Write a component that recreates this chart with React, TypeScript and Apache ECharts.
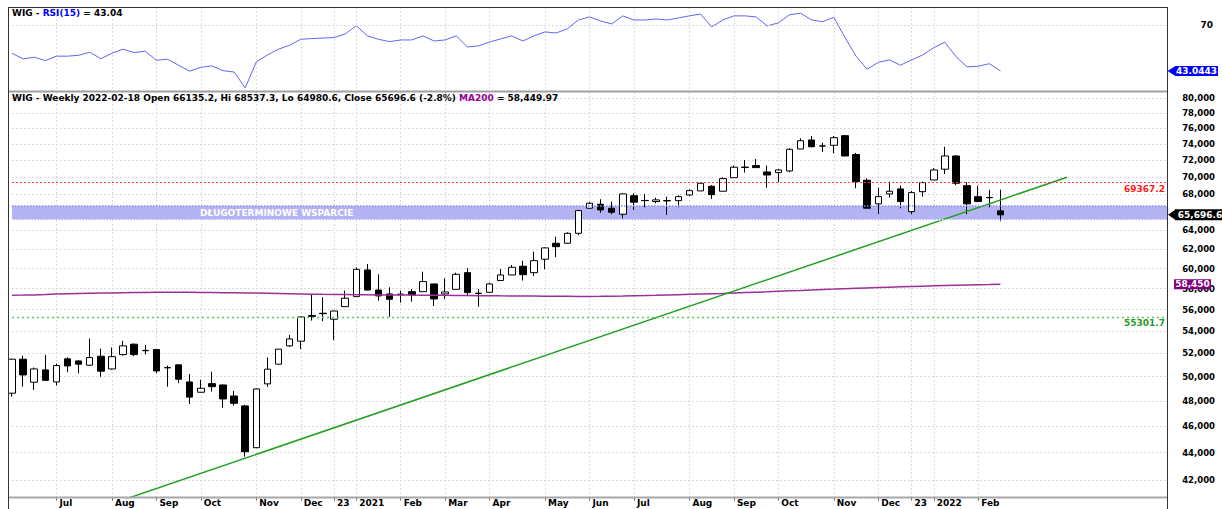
import React, { useEffect, useRef } from 'react';
import * as echarts from 'echarts';

const FONT = 'DejaVu Sans';

const WEEKS = [
  '2020-06-05','2020-06-12','2020-06-19','2020-06-26','2020-07-03','2020-07-10','2020-07-17','2020-07-24','2020-07-31',
  '2020-08-07','2020-08-14','2020-08-21','2020-08-28','2020-09-04','2020-09-11','2020-09-18','2020-09-25',
  '2020-10-02','2020-10-09','2020-10-16','2020-10-23','2020-10-30','2020-11-06','2020-11-13','2020-11-20','2020-11-27',
  '2020-12-04','2020-12-11','2020-12-18','2020-12-23','2020-12-31',
  '2021-01-08','2021-01-15','2021-01-22','2021-01-29','2021-02-05','2021-02-12','2021-02-19','2021-02-26',
  '2021-03-05','2021-03-12','2021-03-19','2021-03-26','2021-04-01','2021-04-09','2021-04-16','2021-04-23','2021-04-30',
  '2021-05-07','2021-05-14','2021-05-21','2021-05-28','2021-06-04','2021-06-11','2021-06-18','2021-06-25',
  '2021-07-02','2021-07-09','2021-07-16','2021-07-23','2021-07-30','2021-08-06','2021-08-13','2021-08-20','2021-08-27',
  '2021-09-03','2021-09-10','2021-09-17','2021-09-24','2021-10-01','2021-10-08','2021-10-15','2021-10-22','2021-10-29',
  '2021-11-05','2021-11-12','2021-11-19','2021-11-26','2021-12-03','2021-12-10','2021-12-17','2021-12-23','2021-12-30',
  '2022-01-07','2022-01-14','2022-01-21','2022-01-28','2022-02-04','2022-02-11','2022-02-18',
];

const FUTURE_WEEKS = [
  '2022-02-25','2022-03-04','2022-03-11','2022-03-18','2022-03-25','2022-04-01','2022-04-08','2022-04-15',
  '2022-04-22','2022-04-29','2022-05-06','2022-05-13','2022-05-20','2022-05-27','2022-06-03',
];

const OPEN = [
  48630, 51500, 49540, 50580, 49560, 51530, 51350, 50980, 51760, 50660,
  51900, 52820, 52270, 52340, 50790, 51010, 49560, 48710, 49420, 49310,
  48400, 47600, 44360, 49400, 51070, 52670, 53090, 55350, 55650, 55090,
  56270, 57230, 59860, 57870, 57490, 57460, 57710, 57710, 58470, 57490,
  57940, 59590, 57560, 57650, 58800, 59360, 60240, 59590, 60960, 62620,
  62620, 63680, 66430, 66880, 66430, 65760, 67850, 67290, 67180, 67290,
  67290, 67930, 68400, 68940, 68360, 69940, 71160, 71380, 70620, 70540,
  70740, 73410, 74530, 73780, 73870, 75080, 72720, 69640, 66920, 68050,
  68630, 66050, 68310, 69670, 70950, 72550, 69010, 67740, 67650, 66135.2,
];
const HIGH = [
  51550, 51810, 50780, 51870, 51120, 51670, 51410, 53320, 52430, 52520,
  53120, 52880, 52760, 52380, 50950, 51050, 50230, 49750, 50430, 49360,
  48820, 47680, 49030, 51640, 52400, 53650, 55330, 57390, 57170, 55890,
  57810, 60130, 60470, 59430, 58140, 57810, 57970, 59690, 58470, 59030,
  59590, 60030, 57940, 58600, 59960, 60370, 60810, 61740, 62200, 63320,
  63790, 66240, 67110, 67450, 67180, 68130, 68130, 68050, 67630, 67740,
  67900, 68590, 69360, 69060, 69990, 71380, 72060, 72180, 71380, 70980,
  73500, 74750, 75040, 74190, 75040, 75170, 72920, 69870, 68780, 69480,
  69010, 68400, 69480, 71070, 73690, 72670, 69410, 69010, 68520, 68537.3,
];
const LOW = [
  48350, 49170, 48900, 49640, 49260, 50380, 50290, 50950, 50000, 50600,
  51810, 51760, 51930, 50290, 49170, 49460, 47750, 48680, 48760, 47460,
  47620, 43700, 44340, 49170, 51050, 52580, 52380, 54960, 54910, 53180,
  56270, 57230, 57830, 56820, 55330, 56650, 56750, 57710, 56340, 56980,
  57940, 57300, 56270, 57650, 58800, 59360, 58800, 59260, 59930, 61160,
  62550, 63470, 66350, 65930, 65760, 65320, 66240, 66530, 66990, 65680,
  66530, 67820, 68400, 67480, 68360, 69940, 70540, 71140, 68780, 69410,
  70590, 73410, 73620, 73040, 72880, 72520, 68710, 66430, 65790, 67630,
  66420, 65760, 67740, 69670, 70380, 69060, 65760, 67180, 66530, 64980.6,
];
const CLOSE = [
  51500, 50150, 50660, 49700, 50950, 50920, 51070, 51640, 50470, 51720,
  52670, 51900, 52240, 50490, 50750, 49790, 48310, 49040, 49170, 48160,
  47810, 44060, 48980, 50640, 52380, 53290, 55300, 55440, 55610, 55860,
  57080, 59930, 57870, 57300, 56980, 57450, 57390, 58700, 57010, 57680,
  59430, 57620, 57540, 58470, 59360, 60130, 59390, 60810, 62130, 62260,
  63680, 66160, 66990, 66240, 65980, 68050, 67110, 67310, 67370, 67260,
  67740, 68430, 69290, 67970, 69830, 71190, 71200, 71140, 70260, 70860,
  73370, 74440, 73690, 73780, 74820, 72550, 69480, 66430, 67740, 68360,
  67180, 68200, 69360, 70860, 72550, 69290, 66920, 67180, 67615, 65696.6,
];

const RSI15 = [
  53.4, 50.1, 51.1, 49.1, 51.7, 51.7, 52.2, 54.0, 50.2, 53.4,
  55.8, 53.8, 54.6, 49.3, 49.9, 46.4, 42.9, 45.2, 46.0, 43.2,
  42.4, 33.2, 48.3, 52.4, 55.8, 58.1, 61.6, 62.0, 62.3, 62.6,
  64.7, 69.6, 63.6, 61.6, 60.2, 61.2, 61.2, 63.6, 60.6, 61.2,
  63.6, 57.1, 57.7, 60.0, 61.8, 63.6, 60.6, 63.6, 65.9, 65.3,
  67.7, 72.9, 74.7, 72.3, 70.6, 75.3, 72.9, 72.9, 73.5, 72.9,
  74.1, 75.3, 76.4, 68.8, 72.9, 75.3, 75.3, 74.7, 69.4, 71.2,
  75.9, 76.9, 72.9, 71.9, 74.5, 62.7, 51.7, 44.0, 48.1, 49.5,
  46.4, 49.5, 52.4, 56.7, 59.9, 51.4, 45.4, 45.8, 47.3, 43.0443,
];

const MA200 = [
  57365, 57380, 57400, 57440, 57490, 57510, 57530, 57550, 57570, 57590,
  57610, 57625, 57640, 57654, 57660, 57660, 57650, 57640, 57630, 57615,
  57600, 57585, 57570, 57550, 57530, 57510, 57490, 57461, 57450, 57440,
  57430, 57420, 57410, 57400, 57395, 57390, 57380, 57374, 57365, 57355,
  57345, 57335, 57325, 57315, 57305, 57300, 57290, 57280, 57270, 57265,
  57260, 57255, 57250, 57260, 57275, 57290, 57310, 57330, 57360, 57394,
  57420, 57450, 57480, 57510, 57540, 57580, 57620, 57660, 57700, 57750,
  57790, 57830, 57875, 57923, 57960, 58000, 58040, 58075, 58110, 58145,
  58180, 58215, 58250, 58280, 58310, 58340, 58370, 58395, 58420, 58449.97,
];

const MONTH_LABELS: Record<number, string> = {
  4: 'Jul', 9: 'Aug', 13: 'Sep', 17: 'Oct', 22: 'Nov', 26: 'Dec', 29: '23', 31: '2021',
  35: 'Feb', 39: 'Mar', 43: 'Apr', 48: 'May', 52: 'Jun', 56: 'Jul', 61: 'Aug', 65: 'Sep',
  69: 'Oct', 74: 'Nov', 78: 'Dec', 81: '23', 83: '2022', 87: 'Feb',
};

const PRICE_TICKS = [
  42000, 44000, 46000, 48000, 50000, 52000, 54000, 56000, 58000, 60000,
  62000, 64000, 66000, 68000, 70000, 72000, 74000, 76000, 78000, 80000,
];
// tick label hidden in the reference behind the last-close tag
const HIDDEN_TICK_LABELS = [66000];
const RSI_LEVEL = 70;
const RESISTANCE = 69367.2;
const SUPPORT_LINE = 55301.7;
const SUPPORT_ZONE = [66670, 65130];
const SUPPORT_NAME = 'DŁUGOTERMINOWE WSPARCIE';
const TREND = [[10, 40620], [95, 70000]];

const PRICE_MIN = 40787;
const PRICE_MAX = 80814;
const RSI_MIN = 31;
const RSI_MAX = 80.5;

const last = WEEKS.length - 1;
const HEADER_RSI = `{k|WIG - }{b|RSI(15)}{k| = ${RSI15[last].toFixed(2)}}`;
const pct = ((CLOSE[last] / CLOSE[last - 1] - 1) * 100).toFixed(1);
const HEADER_PRICE =
  `{k|WIG - Weekly ${WEEKS[last]} Open ${OPEN[last]}, Hi ${HIGH[last]}, Lo ${LOW[last]}, Close ${CLOSE[last]} (${pct}%) }` +
  `{m|MA200}{k| = 58,449.97}`;

const fmt = (v: number) => v.toLocaleString('en-US');

export default function App() {
  const ref = useRef<HTMLDivElement>(null);

  useEffect(() => {
    if (!ref.current) return;
    const chart = echarts.init(ref.current, null, { renderer: 'svg' });
    const cats = [...WEEKS, ...FUTURE_WEEKS];
    const lastCat = cats[cats.length - 1];
    const showAt = (i: number) => MONTH_LABELS[i] !== undefined;
    const gridLine = { color: '#cfcfcf', type: [1.5, 2.5], width: 1 };
    const bold = { fontFamily: FONT, fontSize: 9, fontWeight: 'bold' as const };

    const tag = (value: number, text: string, color: string, width: number, height: number, offsetX: number) => ({
      coord: [lastCat, value], symbol: 'rect', symbolSize: [width, height], symbolOffset: [offsetX, 0],
      itemStyle: { color },
      label: { show: true, position: 'inside', color: '#ffffff', ...bold, formatter: text },
    });
    const arrow = (value: number, color: string, size: number[], offsetX: number) => ({
      coord: [lastCat, value], symbol: 'triangle', symbolSize: size, symbolRotate: 90,
      symbolOffset: [offsetX, 0], itemStyle: { color }, label: { show: false },
    });

    const option: any = {
      animation: false,
      backgroundColor: '#ffffff',
      textStyle: { fontFamily: FONT },
      title: [
        {
          left: 12, top: 8, padding: 0, text: HEADER_RSI,
          textStyle: { rich: { k: { ...bold, color: '#000' }, b: { ...bold, color: '#0000ff' } } },
        },
        {
          left: 12, top: 93, padding: 0, text: HEADER_PRICE,
          textStyle: { rich: { k: { ...bold, color: '#000' }, m: { ...bold, color: '#990099' } } },
        },
      ],
      grid: [
        { left: 12, right: 55, top: 7, height: 84.5 },
        { left: 12, right: 55, top: 92, height: 405.5 },
      ],
      xAxis: [
        {
          type: 'category', gridIndex: 0, data: cats, boundaryGap: false,
          axisLine: { show: false }, axisTick: { show: false }, axisLabel: { show: false },
          splitLine: { show: true, interval: (i: number) => showAt(i), lineStyle: gridLine },
        },
        {
          type: 'category', gridIndex: 1, data: cats, boundaryGap: false,
          axisLine: { show: false },
          axisTick: { show: true, interval: (i: number) => showAt(i), length: 3, lineStyle: { color: '#666' } },
          axisLabel: {
            show: true, interval: (i: number) => showAt(i),
            formatter: (_v: string, i: number) => MONTH_LABELS[i] ?? '',
            align: 'left', padding: [0, 0, 0, 3], margin: 1, color: '#000', ...bold,
          },
          splitLine: { show: true, interval: (i: number) => showAt(i), lineStyle: gridLine },
        },
      ],
      yAxis: [
        {
          type: 'value', gridIndex: 0, min: RSI_MIN, max: RSI_MAX, position: 'right',
          axisLine: { show: false }, axisTick: { show: false }, axisLabel: { show: false }, splitLine: { show: false },
        },
        {
          type: 'log', gridIndex: 1, min: PRICE_MIN, max: PRICE_MAX, logBase: 10, position: 'right',
          axisLine: { show: false }, axisTick: { show: false }, axisLabel: { show: false }, splitLine: { show: false },
        },
      ],
      series: [
        {
          name: 'RSI(15)', type: 'line', xAxisIndex: 0, yAxisIndex: 0, data: RSI15,
          symbol: 'none', lineStyle: { color: '#6464f6', width: 1 }, z: 3,
          markLine: {
            silent: true, symbol: ['none', 'none'], z: 4,
            data: [
              {
                yAxis: RSI_LEVEL, lineStyle: gridLine,
                label: { position: 'end', distance: [46, 0], align: 'right', color: '#000', ...bold, formatter: String(RSI_LEVEL) },
              },
            ],
          },
          markPoint: {
            silent: true, z: 10,
            data: [
              arrow(RSI15[last], '#0000ff', [10, 8], 4.5),
              tag(RSI15[last], RSI15[last].toFixed(4), '#0000ff', 43, 10, 29.5),
            ],
          },
        },
        {
          name: 'WIG', type: 'candlestick', xAxisIndex: 1, yAxisIndex: 1,
          data: OPEN.map((o, i) => [o, CLOSE[i], LOW[i], HIGH[i]]),
          barWidth: 7, clip: false, z: 2,
          itemStyle: {
            color: '#ffffff', color0: '#000000', borderColor: '#000000', borderColor0: '#000000',
            borderColorDoji: '#000000', borderWidth: 1,
          },
          markArea: {
            silent: true, z: 1,
            itemStyle: { color: '#b4b4f4', borderWidth: 0 },
            label: { position: 'insideLeft', distance: 188, color: '#ffffff', ...bold },
            data: [[{ yAxis: SUPPORT_ZONE[0], name: SUPPORT_NAME }, { yAxis: SUPPORT_ZONE[1] }]],
          },
          markLine: {
            silent: true, symbol: ['none', 'none'], z: 0.5,
            lineStyle: gridLine,
            label: { position: 'end', distance: [48, 0], align: 'right', color: '#000', ...bold, fontSize: 8.5 },
            data: PRICE_TICKS.map((v) => ({
              yAxis: v,
              label: HIDDEN_TICK_LABELS.includes(v) ? { show: false } : { formatter: fmt(v) },
            })),
          },
        },
        {
          name: 'MA200', type: 'line', xAxisIndex: 1, yAxisIndex: 1, data: MA200,
          symbol: 'none', lineStyle: { color: '#9b309b', width: 1.5 }, z: 3,
          markLine: {
            silent: true, symbol: ['none', 'none'], z: 4,
            data: [
              {
                yAxis: SUPPORT_ZONE[0], lineStyle: { color: '#8a8ae8', type: [1.5, 1.5], width: 1.5 },
                label: { show: false },
              },
              {
                yAxis: SUPPORT_ZONE[1], lineStyle: { color: '#ffffff', type: [1.5, 1.5], width: 1.5 },
                label: { show: false },
              },
              {
                yAxis: RESISTANCE, lineStyle: { color: '#ff3b3b', type: [2, 2], width: 1 },
                label: {
                  position: 'insideEndBottom', distance: [2, 2], color: '#ff2020', ...bold,
                  formatter: String(RESISTANCE),
                },
              },
              {
                yAxis: SUPPORT_LINE, lineStyle: { color: '#5ccc5c', type: [2, 3], width: 1.3 },
                label: {
                  position: 'insideEndBottom', distance: [2, 2], color: '#2a9a2a', ...bold,
                  formatter: String(SUPPORT_LINE),
                },
              },
            ],
          },
        },
        {
          name: 'Trend', type: 'line', xAxisIndex: 1, yAxisIndex: 1, data: TREND,
          symbol: 'none', lineStyle: { color: '#22a022', width: 1.5 }, z: 3,
        },
        {
          name: 'Tags', type: 'line', xAxisIndex: 1, yAxisIndex: 1, data: [], zlevel: 1,
          symbol: 'none',
          markPoint: {
            silent: true,
            data: [
              tag(MA200[last], fmt(Math.round(MA200[last])), '#800080', 37, 10, 25.5),
              arrow(CLOSE[last], '#000000', [11, 8], 5),
              tag(CLOSE[last], fmt(CLOSE[last]), '#000000', 50, 11, 33),
            ],
          },
        },
      ],
      graphic: [
        { type: 'line', z: 20, shape: { x1: 8.5, y1: 7, x2: 8.5, y2: 509 }, style: { stroke: '#333', lineWidth: 1 } },
        { type: 'line', z: 20, shape: { x1: 8, y1: 7.5, x2: 1168, y2: 7.5 }, style: { stroke: '#333', lineWidth: 1 } },
        { type: 'line', z: 20, shape: { x1: 1167.5, y1: 7, x2: 1167.5, y2: 509 }, style: { stroke: '#333', lineWidth: 1 } },
        { type: 'line', z: 20, shape: { x1: 9, y1: 91.5, x2: 1167, y2: 91.5 }, style: { stroke: '#a0a0a0', lineWidth: 2 } },
        { type: 'line', z: 20, shape: { x1: 9, y1: 497.5, x2: 1167, y2: 497.5 }, style: { stroke: '#a8a8a8', lineWidth: 2 } },
      ],
    };

    chart.setOption(option);
    return () => chart.dispose();
  }, []);

  return (
    <div
      ref={ref}
      style={{ position: 'fixed', left: 0, top: 0, width: 1222, height: 509, background: '#fff' }}
    />
  );
}
